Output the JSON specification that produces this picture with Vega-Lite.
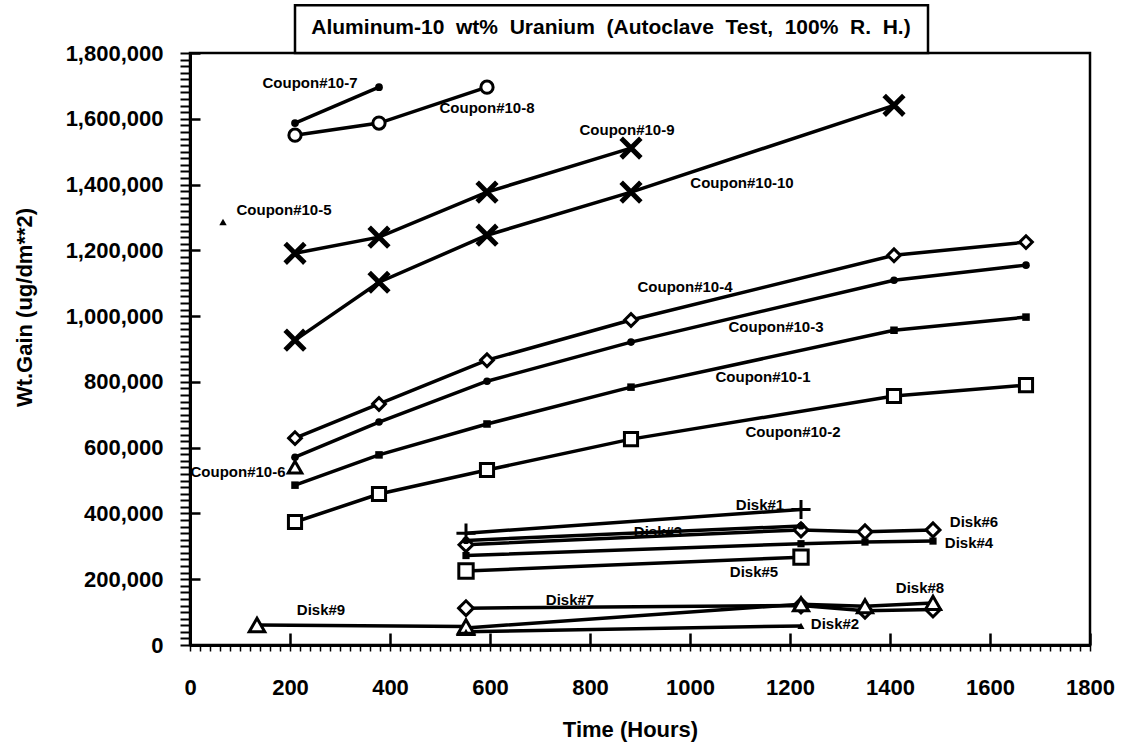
{
  "$schema": "https://vega.github.io/schema/vega-lite/v6.json",
  "width": 900,
  "height": 592,
  "autosize": "none",
  "padding": {"left": 190, "top": 53, "right": 35, "bottom": 100},
  "background": "white",
  "config": {
    "view": {"stroke": "black", "strokeWidth": 2.5},
    "font": "Liberation Sans"
  },
  "datasets": {
    "points": [
      {"series": "Coupon#10-7", "hours": 210, "gain": 1587000},
      {"series": "Coupon#10-7", "hours": 378, "gain": 1696000},
      {"series": "Coupon#10-8", "hours": 210, "gain": 1550000},
      {"series": "Coupon#10-8", "hours": 378, "gain": 1587000},
      {"series": "Coupon#10-8", "hours": 594, "gain": 1696000},
      {"series": "Coupon#10-9", "hours": 210, "gain": 1191000},
      {"series": "Coupon#10-9", "hours": 378, "gain": 1240000},
      {"series": "Coupon#10-9", "hours": 594, "gain": 1377000},
      {"series": "Coupon#10-9", "hours": 882, "gain": 1511000},
      {"series": "Coupon#10-10", "hours": 210, "gain": 927000},
      {"series": "Coupon#10-10", "hours": 378, "gain": 1103000},
      {"series": "Coupon#10-10", "hours": 594, "gain": 1246000},
      {"series": "Coupon#10-10", "hours": 882, "gain": 1377000},
      {"series": "Coupon#10-10", "hours": 1408, "gain": 1641000},
      {"series": "Coupon#10-5", "hours": 66, "gain": 1286000},
      {"series": "Coupon#10-4", "hours": 210, "gain": 629000},
      {"series": "Coupon#10-4", "hours": 378, "gain": 733000},
      {"series": "Coupon#10-4", "hours": 594, "gain": 866000},
      {"series": "Coupon#10-4", "hours": 882, "gain": 988000},
      {"series": "Coupon#10-4", "hours": 1408, "gain": 1185000},
      {"series": "Coupon#10-4", "hours": 1672, "gain": 1225000},
      {"series": "Coupon#10-3", "hours": 210, "gain": 571000},
      {"series": "Coupon#10-3", "hours": 378, "gain": 678000},
      {"series": "Coupon#10-3", "hours": 594, "gain": 802000},
      {"series": "Coupon#10-3", "hours": 882, "gain": 921000},
      {"series": "Coupon#10-3", "hours": 1408, "gain": 1109000},
      {"series": "Coupon#10-3", "hours": 1672, "gain": 1155000},
      {"series": "Coupon#10-1", "hours": 210, "gain": 486000},
      {"series": "Coupon#10-1", "hours": 378, "gain": 578000},
      {"series": "Coupon#10-1", "hours": 594, "gain": 672000},
      {"series": "Coupon#10-1", "hours": 882, "gain": 784000},
      {"series": "Coupon#10-1", "hours": 1408, "gain": 957000},
      {"series": "Coupon#10-1", "hours": 1672, "gain": 997000},
      {"series": "Coupon#10-2", "hours": 210, "gain": 374000},
      {"series": "Coupon#10-2", "hours": 378, "gain": 459000},
      {"series": "Coupon#10-2", "hours": 594, "gain": 532000},
      {"series": "Coupon#10-2", "hours": 882, "gain": 626000},
      {"series": "Coupon#10-2", "hours": 1408, "gain": 757000},
      {"series": "Coupon#10-2", "hours": 1672, "gain": 790000},
      {"series": "Coupon#10-6", "hours": 210, "gain": 541000},
      {"series": "Disk#1", "hours": 552, "gain": 340000},
      {"series": "Disk#1", "hours": 1222, "gain": 412000},
      {"series": "Disk#3", "hours": 552, "gain": 318000},
      {"series": "Disk#3", "hours": 1222, "gain": 362000},
      {"series": "Disk#6", "hours": 552, "gain": 305000},
      {"series": "Disk#6", "hours": 1222, "gain": 350000},
      {"series": "Disk#6", "hours": 1350, "gain": 344000},
      {"series": "Disk#6", "hours": 1486, "gain": 350000},
      {"series": "Disk#4", "hours": 552, "gain": 272000},
      {"series": "Disk#4", "hours": 1222, "gain": 308000},
      {"series": "Disk#4", "hours": 1350, "gain": 313000},
      {"series": "Disk#4", "hours": 1486, "gain": 316000},
      {"series": "Disk#5", "hours": 552, "gain": 225000},
      {"series": "Disk#5", "hours": 1222, "gain": 267000},
      {"series": "Disk#7", "hours": 552, "gain": 112000},
      {"series": "Disk#7", "hours": 1222, "gain": 120000},
      {"series": "Disk#7", "hours": 1350, "gain": 104000},
      {"series": "Disk#7", "hours": 1486, "gain": 108000},
      {"series": "Disk#8", "hours": 552, "gain": 52000},
      {"series": "Disk#8", "hours": 1222, "gain": 124000},
      {"series": "Disk#8", "hours": 1350, "gain": 118000},
      {"series": "Disk#8", "hours": 1486, "gain": 128000},
      {"series": "Disk#2", "hours": 552, "gain": 40000},
      {"series": "Disk#2", "hours": 1222, "gain": 58000},
      {"series": "Disk#9", "hours": 134, "gain": 61000},
      {"series": "Disk#9", "hours": 552, "gain": 56000}
    ],
    "labels": [
      {"label": "Coupon#10-7", "hours": 240, "gain": 1708000},
      {"label": "Coupon#10-8", "hours": 594, "gain": 1632000},
      {"label": "Coupon#10-9", "hours": 874, "gain": 1565000},
      {"label": "Coupon#10-5", "hours": 188, "gain": 1322000},
      {"label": "Coupon#10-10", "hours": 1104, "gain": 1404000},
      {"label": "Coupon#10-4", "hours": 990, "gain": 1088000},
      {"label": "Coupon#10-3", "hours": 1172, "gain": 967000},
      {"label": "Coupon#10-1", "hours": 1146, "gain": 815000},
      {"label": "Coupon#10-2", "hours": 1206, "gain": 647000},
      {"label": "Coupon#10-6", "hours": 96, "gain": 526000},
      {"label": "Disk#1", "hours": 1140, "gain": 426000},
      {"label": "Disk#3", "hours": 936, "gain": 343000},
      {"label": "Disk#6", "hours": 1568, "gain": 374000},
      {"label": "Disk#4", "hours": 1558, "gain": 310000},
      {"label": "Disk#5", "hours": 1128, "gain": 222000},
      {"label": "Disk#8", "hours": 1460, "gain": 173000},
      {"label": "Disk#7", "hours": 760, "gain": 137000},
      {"label": "Disk#2", "hours": 1290, "gain": 64000},
      {"label": "Disk#9", "hours": 262, "gain": 106000}
    ],
    "title": [
      {"text": "Aluminum-10\u00a0 wt%\u00a0 Uranium\u00a0 (Autoclave\u00a0 Test,\u00a0 100%\u00a0 R.\u00a0 H.)"}
    ]
  },
  "resolve": {
    "axis": {"x": "independent", "y": "independent"},
    "scale": {"shape": "independent", "size": "independent"}
  },
  "layer": [
    {
      "data": {"name": "points"},
      "mark": {"type": "line", "stroke": "black", "strokeWidth": 3.5},
      "encoding": {
        "x": {
          "field": "hours", "type": "quantitative",
          "scale": {"domain": [0, 1800], "nice": false},
          "axis": {
            "values": [0, 200, 400, 600, 800, 1000, 1200, 1400, 1600, 1800],
            "format": "d", "grid": false,
            "labelFontSize": 22, "labelFontWeight": "bold", "labelColor": "black",
            "labelFlush": false, "labelOverlap": false, "labelBound": false,
            "labelPadding": 44,
            "tickSize": -12, "tickWidth": 2.5, "tickColor": "black",
            "domainColor": "black", "domainWidth": 3,
            "title": "Time (Hours)", "titleFontSize": 22, "titleFontWeight": "bold",
            "titleColor": "black", "titleX": 440, "titleY": 84, "titleBaseline": "middle",
            "titleAlign": "center"
          }
        },
        "y": {
          "field": "gain", "type": "quantitative",
          "scale": {"domain": [0, 1800000], "nice": false},
          "axis": {
            "values": [0, 200000, 400000, 600000, 800000, 1000000, 1200000, 1400000, 1600000, 1800000],
            "format": ",d", "grid": false,
            "labelFontSize": 22, "labelFontWeight": "bold", "labelColor": "black",
            "labelFlush": false, "labelOverlap": false, "labelBound": false,
            "labelPadding": 37,
            "tickSize": -10, "tickWidth": 2.5, "tickColor": "black",
            "domainColor": "black", "domainWidth": 3,
            "title": "Wt.Gain  (ug/dm**2)", "titleFontSize": 22, "titleFontWeight": "bold",
            "titleColor": "black", "titleX": -166, "titleY": 254, "titleAngle": -90,
            "titleBaseline": "middle", "titleAlign": "center"
          }
        },
        "detail": {"field": "series"}
      }
    },
    {
      "data": {"name": "points"},
      "transform": [{"filter": {"field": "series", "oneOf": ["Coupon#10-8", "Coupon#10-4", "Coupon#10-2", "Coupon#10-6", "Disk#6", "Disk#5", "Disk#7", "Disk#8", "Disk#9"]}}],
      "mark": {"type": "point", "filled": true, "fill": "white", "stroke": "black", "strokeWidth": 3, "opacity": 1},
      "encoding": {
        "x": {
          "field": "hours", "type": "quantitative",
          "scale": {"domain": [0, 1800], "nice": false},
          "axis": {
            "tickCount": 90, "labels": false, "domain": false, "grid": false,
            "tickSize": 6, "tickWidth": 1.5, "tickColor": "black", "title": null, "orient": "bottom"
          }
        },
        "y": {
          "field": "gain", "type": "quantitative",
          "scale": {"domain": [0, 1800000], "nice": false},
          "axis": {
            "tickCount": 90, "labels": false, "domain": false, "grid": false,
            "tickSize": 10, "tickWidth": 2, "tickColor": "black", "title": null, "orient": "left"
          }
        },
        "shape": {
          "field": "series", "legend": null,
          "scale": {
            "domain": ["Coupon#10-8", "Coupon#10-4", "Coupon#10-2", "Coupon#10-6", "Disk#6", "Disk#5", "Disk#7", "Disk#8", "Disk#9"],
            "range": ["circle", "diamond", "square", "triangle-up", "diamond", "square", "diamond", "triangle-up", "triangle-up"]
          }
        },
        "size": {
          "field": "series", "type": "nominal", "legend": null,
          "scale": {
            "domain": ["Coupon#10-8", "Coupon#10-4", "Coupon#10-2", "Coupon#10-6", "Disk#6", "Disk#5", "Disk#7", "Disk#8", "Disk#9"],
            "range": [150, 240, 200, 200, 130, 180, 180, 130, 190]
          }
        }
      }
    },
    {
      "data": {"name": "points"},
      "transform": [{"filter": {"field": "series", "oneOf": ["Coupon#10-7", "Coupon#10-3", "Coupon#10-1", "Coupon#10-5", "Disk#3", "Disk#4", "Disk#2"]}}],
      "mark": {"type": "point", "filled": true, "fill": "black", "opacity": 1},
      "encoding": {
        "x": {"field": "hours", "type": "quantitative", "scale": {"domain": [0, 1800], "nice": false}, "axis": null},
        "y": {"field": "gain", "type": "quantitative", "scale": {"domain": [0, 1800000], "nice": false}, "axis": null},
        "shape": {
          "field": "series", "legend": null,
          "scale": {
            "domain": ["Coupon#10-7", "Coupon#10-3", "Coupon#10-1", "Coupon#10-5", "Disk#3", "Disk#4", "Disk#2"],
            "range": ["circle", "circle", "square", "triangle-up", "circle", "square", "triangle-up"]
          }
        },
        "size": {
          "field": "series", "type": "nominal", "legend": null,
          "scale": {
            "domain": ["Coupon#10-7", "Coupon#10-3", "Coupon#10-1", "Coupon#10-5", "Disk#3", "Disk#4", "Disk#2"],
            "range": [60, 50, 80, 35, 40, 40, 35]
          }
        }
      }
    },
    {
      "data": {"name": "points"},
      "transform": [{"filter": {"field": "series", "oneOf": ["Coupon#10-9", "Coupon#10-10", "Disk#1"]}}],
      "mark": {"type": "point", "filled": false, "stroke": "black", "opacity": 1, "strokeCap": "square"},
      "encoding": {
        "x": {"field": "hours", "type": "quantitative", "scale": {"domain": [0, 1800], "nice": false}, "axis": null},
        "y": {"field": "gain", "type": "quantitative", "scale": {"domain": [0, 1800000], "nice": false}, "axis": null},
        "shape": {
          "field": "series", "legend": null,
          "scale": {
            "domain": ["Coupon#10-9", "Coupon#10-10", "Disk#1"],
            "range": ["M-1,-1L1,1M1,-1L-1,1", "M-1,-1L1,1M1,-1L-1,1", "M-1,0L1,0M0,-1L0,1"]
          }
        },
        "size": {
          "field": "series", "type": "nominal", "legend": null,
          "scale": {"domain": ["Coupon#10-9", "Coupon#10-10", "Disk#1"], "range": [260, 260, 200]}
        },
        "strokeWidth": {
          "field": "series", "type": "nominal", "legend": null,
          "scale": {"type": "ordinal", "domain": ["Coupon#10-9", "Coupon#10-10", "Disk#1"], "range": [5, 5, 3]}
        }
      }
    },
    {
      "data": {"name": "labels"},
      "mark": {"type": "text", "fontSize": 15, "fontWeight": "bold", "color": "black", "align": "center", "baseline": "middle"},
      "encoding": {
        "x": {"field": "hours", "type": "quantitative", "scale": {"domain": [0, 1800], "nice": false}, "axis": null},
        "y": {"field": "gain", "type": "quantitative", "scale": {"domain": [0, 1800000], "nice": false}, "axis": null},
        "text": {"field": "label"}
      }
    },
    {
      "data": {"name": "title"},
      "mark": {"type": "rect", "fill": "white", "stroke": "black", "strokeWidth": 2.5},
      "encoding": {
        "x": {"datum": 210, "type": "quantitative", "scale": {"domain": [0, 1800], "nice": false}, "axis": null},
        "x2": {"datum": 1476},
        "y": {"datum": 1800000, "type": "quantitative", "scale": {"domain": [0, 1800000], "nice": false}, "axis": null},
        "y2": {"datum": 1945000}
      }
    },
    {
      "data": {"name": "title"},
      "mark": {"type": "text", "fontSize": 21, "fontWeight": "bold", "color": "black", "align": "center", "baseline": "middle"},
      "encoding": {
        "x": {"datum": 842, "type": "quantitative", "scale": {"domain": [0, 1800], "nice": false}, "axis": null},
        "y": {"datum": 1875000, "type": "quantitative", "scale": {"domain": [0, 1800000], "nice": false}, "axis": null},
        "text": {"field": "text"}
      }
    }
  ]
}
